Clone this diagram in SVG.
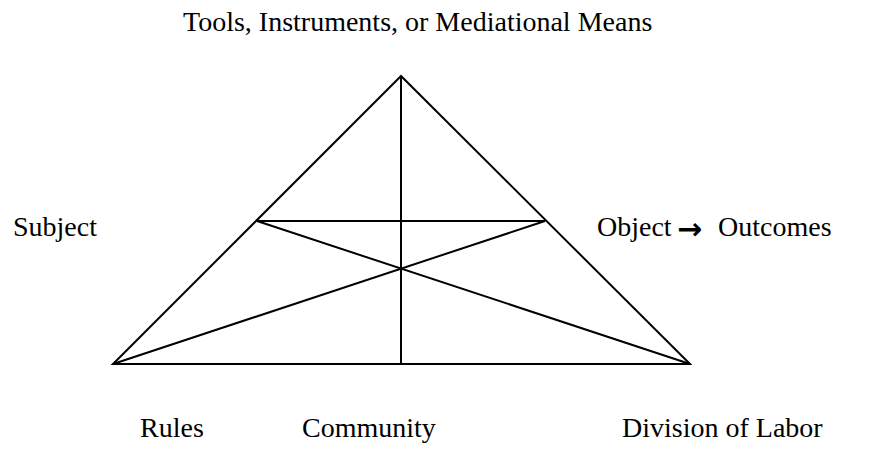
<svg xmlns="http://www.w3.org/2000/svg" width="893" height="449" viewBox="0 0 893 449">
<style>
.ln{stroke:#000;stroke-width:2;fill:none;stroke-linejoin:miter}
.t{font-family:"Liberation Serif","Times New Roman",serif;font-size:28px;fill:#000}
.ar{font-family:"DejaVu Sans",sans-serif;font-weight:bold;font-size:30px;fill:#000}
</style>
<rect width="893" height="449" fill="#fff"/>
<g id="connectors">
<polygon class="ln" points="401,76 113,364 690,364"/>
<line class="ln" x1="401" y1="76" x2="401" y2="364"/>
<line class="ln" x1="257" y1="221" x2="545" y2="221"/>
<line class="ln" x1="257" y1="221" x2="690" y2="364"/>
<line class="ln" x1="545" y1="221" x2="113" y2="364"/>
</g>
<g id="tools"><text class="t" x="183" y="31">Tools, Instruments, or Mediational Means</text></g>
<g id="subject"><text class="t" x="13" y="236">Subject</text></g>
<g id="object"><text class="t" x="597" y="236">Object</text><text class="ar" x="677" y="239">→</text><text class="t" x="718" y="236">Outcomes</text></g>
<g id="rules"><text class="t" x="140" y="437">Rules</text></g>
<g id="community"><text class="t" x="302" y="437">Community</text></g>
<g id="division"><text class="t" x="622" y="437">Division of Labor</text></g>
</svg>
